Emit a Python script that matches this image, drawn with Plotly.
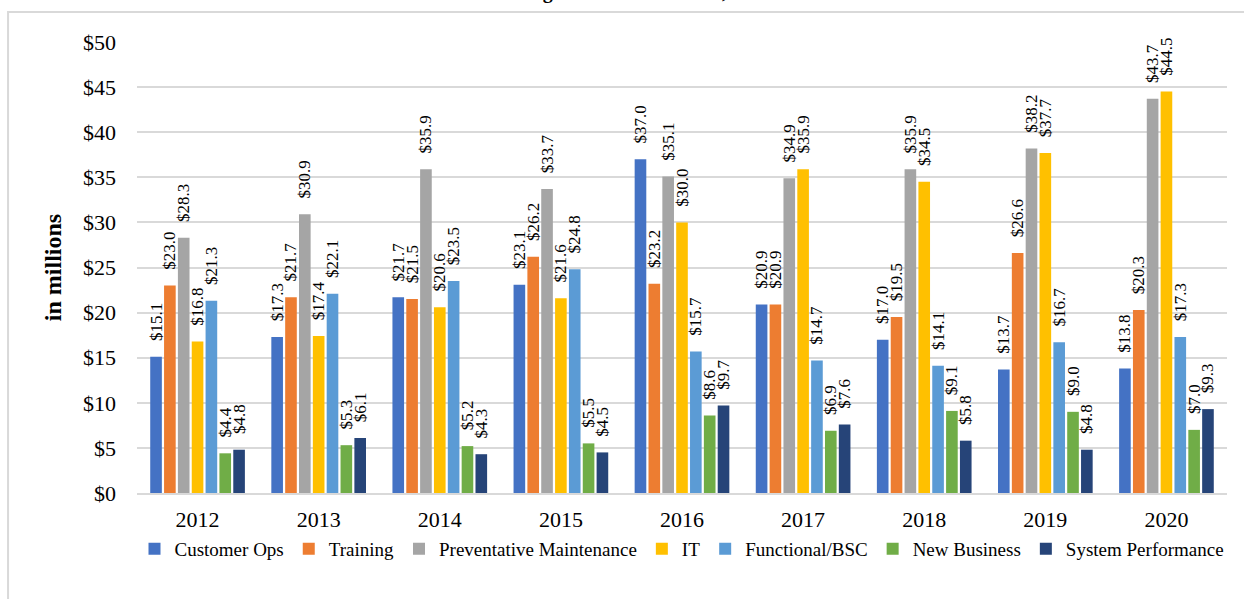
import plotly.graph_objects as go

# Fiscal years on the category axis
years = ["2012", "2013", "2014", "2015", "2016", "2017", "2018", "2019", "2020"]

# Annual amounts per category (in millions of dollars)
customer_ops = [15.1, 17.3, 21.7, 23.1, 37.0, 20.9, 17.0, 13.7, 13.8]
training = [23.0, 21.7, 21.5, 26.2, 23.2, 20.9, 19.5, 26.6, 20.3]
preventative_maintenance = [28.3, 30.9, 35.9, 33.7, 35.1, 34.9, 35.9, 38.2, 43.7]
it = [16.8, 17.4, 20.6, 21.6, 30.0, 35.9, 34.5, 37.7, 44.5]
functional_bsc = [21.3, 22.1, 23.5, 24.8, 15.7, 14.7, 14.1, 16.7, 17.3]
new_business = [4.4, 5.3, 5.2, 5.5, 8.6, 6.9, 9.1, 9.0, 7.0]
system_performance = [4.8, 6.1, 4.3, 4.5, 9.7, 7.6, 5.8, 4.8, 9.3]

y_ticks = [0, 5, 10, 15, 20, 25, 30, 35, 40, 45, 50]
y_tick_labels = ["$" + str(v) for v in y_ticks]

series = [
    ("Customer Ops", customer_ops, "#4472C4"),
    ("Training", training, "#ED7D31"),
    ("Preventative Maintenance", preventative_maintenance, "#A5A5A5"),
    ("IT", it, "#FFC000"),
    ("Functional/BSC", functional_bsc, "#5B9BD5"),
    ("New Business", new_business, "#70AD47"),
    ("System Performance", system_performance, "#264478"),
]

SERIF = "Liberation Serif, Times New Roman, serif"

fig = go.Figure()
for name, values, color in series:
    fig.add_trace(go.Bar(
        name=name,
        x=years,
        y=values,
        marker=dict(color=color, line=dict(width=0)),
        text=["\u00a0\u00a0\u00a0$" + f"{v:.1f}" for v in values],
        textposition="outside",
        textangle=-90,
        textfont=dict(family=SERIF, size=17, color="#000000"),
        constraintext="none",
        cliponaxis=False,
    ))

# Outer chart frame
fig.add_shape(type="rect", xref="paper", yref="paper",
              x0=-0.1183, x1=1.2, y0=-0.5, y1=1.0665,
              line=dict(color="#D9D9D9", width=2), fillcolor="rgba(0,0,0,0)",
              layer="below")

# Chart heading, sitting right at the top edge of the page
fig.add_annotation(text="<b>Annual Funding Totals for All Areas, 2012 \u2013 2020</b>",
                   xref="paper", yref="paper", x=0.445, y=1.081,
                   xanchor="center", yanchor="bottom", showarrow=False,
                   font=dict(family=SERIF, size=20, color="#000000"))

fig.update_layout(
    width=1244,
    height=599,
    margin=dict(l=137, r=17, t=42, b=106),
    paper_bgcolor="#FFFFFF",
    plot_bgcolor="#FFFFFF",
    barmode="group",
    bargap=0.2,
    bargroupgap=0.16,
    font=dict(family=SERIF, size=19, color="#000000"),
    legend=dict(
        orientation="h",
        x=0.5, xanchor="center",
        y=-0.124, yanchor="middle",
        font=dict(family=SERIF, size=19, color="#000000"),
        itemwidth=30,
        traceorder="normal",
        bgcolor="rgba(0,0,0,0)",
    ),
    xaxis=dict(
        showgrid=False,
        showline=True,
        linecolor="#D9D9D9",
        linewidth=2,
        ticks="",
        ticklabelstandoff=6,
        tickfont=dict(family=SERIF, size=22, color="#000000"),
    ),
    yaxis=dict(
        range=[0, 50],
        tickvals=y_ticks,
        ticktext=y_tick_labels,
        showgrid=True,
        gridcolor="#D9D9D9",
        gridwidth=2,
        zeroline=False,
        showline=False,
        ticks="",
        ticklabelstandoff=20,
        tickfont=dict(family=SERIF, size=22, color="#000000"),
        title=dict(text="<b>in millions</b>", standoff=14,
                   font=dict(family=SERIF, size=24, color="#000000")),
    ),
)

fig.write_html("out.html")
